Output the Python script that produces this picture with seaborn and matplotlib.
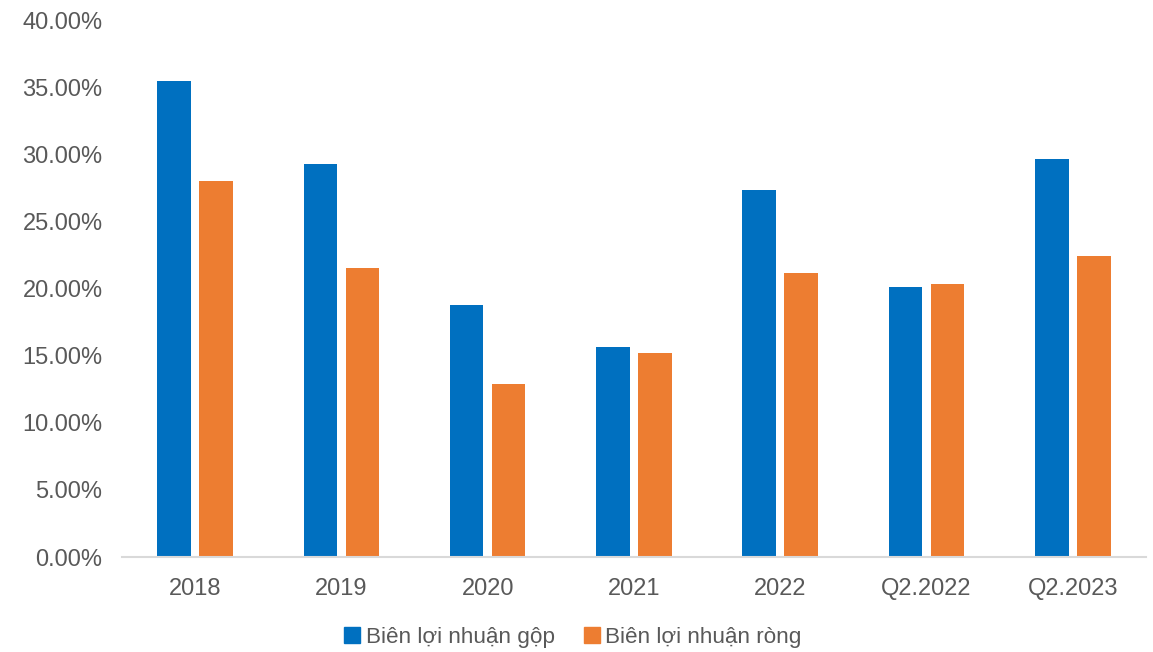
import matplotlib
matplotlib.use("Agg")
import matplotlib.pyplot as plt
import matplotlib.ticker as mticker
import seaborn as sns
import pandas as pd

# Margin data (percent)
periods = ["2018", "2019", "2020", "2021", "2022", "Q2.2022", "Q2.2023"]
gross_margin = [35.46, 29.27, 18.77, 15.62, 27.32, 20.13, 29.65]
net_margin = [28.01, 21.53, 12.86, 15.20, 21.16, 20.31, 22.40]
series_names = ["Biên lợi nhuận gộp", "Biên lợi nhuận ròng"]
colors = ["#0070C0", "#ED7D31"]

df = pd.DataFrame({
    "period": periods * 2,
    "series": [series_names[0]] * len(periods) + [series_names[1]] * len(periods),
    "value": gross_margin + net_margin,
})

sns.set_theme(style="white")
plt.rcParams["font.family"] = ["Liberation Sans", "DejaVu Sans"]

fig = plt.figure(figsize=(11.53, 6.52), dpi=100)
ax = fig.add_axes([0.1058, 0.1457, 0.8881, 0.8236])

sns.barplot(data=df, x="period", y="value", hue="series", order=periods,
            hue_order=series_names, palette=colors, width=0.574, gap=0.2,
            saturation=1, linewidth=0, ax=ax, legend=False)

ax.set_ylim(0, 40)
ax.set_xlim(-0.5, len(periods) - 0.5)
ax.yaxis.set_major_locator(mticker.MultipleLocator(5))
ax.yaxis.set_major_formatter(mticker.FuncFormatter(lambda v, p: f"{v:.2f}%"))
ax.set_xlabel("")
ax.set_ylabel("")

for s in ["top", "right", "left"]:
    ax.spines[s].set_visible(False)
ax.spines["bottom"].set_color("#d9d9d9")
ax.spines["bottom"].set_linewidth(1.5)

ax.tick_params(axis="y", length=0, pad=14, labelsize=17, labelcolor="#595959")
ax.tick_params(axis="x", length=0, pad=15, labelsize=17, labelcolor="#595959")

handles = [plt.Rectangle((0, 0), 1, 1, color=c) for c in colors]
fig.legend(handles, series_names, loc="center", bbox_to_anchor=(0.497, 0.023),
           ncol=2, frameon=False, fontsize=16.2, labelcolor="#595959",
           handlelength=0.7, handleheight=0.7, handletextpad=0.25,
           columnspacing=1.3)

fig.savefig("out.png", dpi=100)
